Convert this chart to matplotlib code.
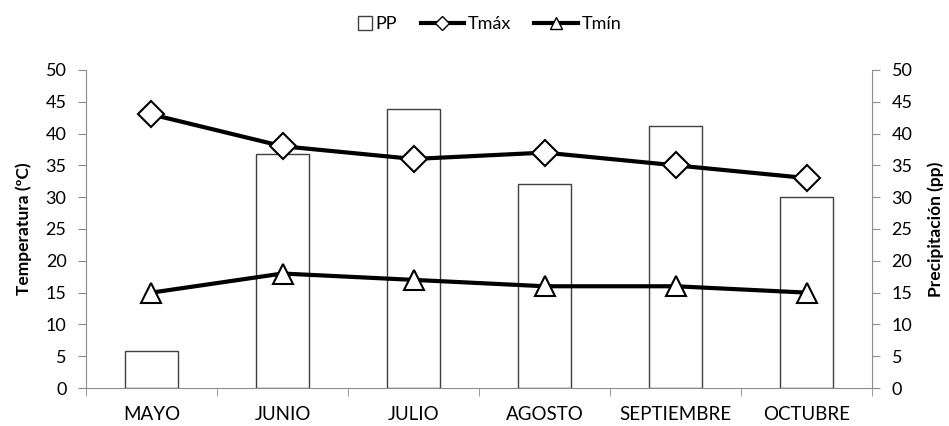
import matplotlib.pyplot as plt
from matplotlib.lines import Line2D
from matplotlib.patches import Rectangle
from matplotlib.legend_handler import HandlerBase
import numpy as np

plt.rcParams['font.family'] = ['Lato', 'DejaVu Sans']

meses = ['MAYO', 'JUNIO', 'JULIO', 'AGOSTO', 'SEPTIEMBRE', 'OCTUBRE']
pp = [5.8, 36.8, 43.8, 32.1, 41.2, 30.1]
tmax = [43, 38, 36, 37, 35, 33]
tmin = [15, 18, 17, 16, 16, 15]


class SquareAtRight(HandlerBase):
    # small square sitting next to the label, like the excel legend
    def create_artists(self, legend, orig_handle, xdescent, ydescent,
                       width, height, fontsize, trans):
        s = height * 1.1
        r = Rectangle((width - xdescent - s, -ydescent + (height - s) / 2), s, s,
                      facecolor='white', edgecolor='#404040', lw=1, transform=trans)
        return [r]


fig = plt.figure(figsize=(9.49, 4.26), dpi=100)
ax = fig.add_axes([0.0906, 0.089, 0.8284, 0.747])
ax2 = ax.twinx()
# bars behind the lines
ax.set_zorder(ax2.get_zorder() + 1)
ax.patch.set_visible(False)

x = np.arange(len(meses))
bars = ax2.bar(x, pp, 0.4, color='white', edgecolor='#404040', linewidth=1.0)

ax.plot(x, tmax, color='black', lw=3, marker='D', ms=13, mfc='white',
        mec='black', mew=1.5)
ax.plot(x, tmin, color='black', lw=3, marker='^', ms=15, mfc='white',
        mec='black', mew=1.5)

gray = '#8c8c8c'
for a in (ax, ax2):
    a.set_ylim(0, 50)
    a.set_yticks(range(0, 51, 5))
    a.set_xlim(-0.5, len(meses) - 0.5)
    for s in a.spines.values():
        s.set_visible(False)
    a.tick_params(axis='y', length=6, color=gray, labelsize=13, pad=8)

ax.spines['left'].set_visible(True)
ax.spines['left'].set_color(gray)
ax.spines['bottom'].set_visible(True)
ax.spines['bottom'].set_color(gray)
ax2.spines['right'].set_visible(True)
ax2.spines['right'].set_color(gray)

ax.set_xticks(x)
ax.set_xticklabels(meses)
ax.set_xticks(np.arange(-0.5, len(meses)), minor=True)
ax.tick_params(axis='x', which='major', length=0, labelsize=13.5, pad=13)
ax.tick_params(axis='x', which='minor', length=6, color=gray)

ax.set_ylabel('Temperatura (ºC)', fontsize=12.5, fontweight='bold', labelpad=10)
ax2.set_ylabel('Precipitación (pp)', fontsize=12.5, fontweight='bold', labelpad=11)

# legend proxies
pp_proxy = Rectangle((0, 0), 1, 1)
handles = [
    pp_proxy,
    Line2D([], [], color='black', lw=3, marker='D', ms=7, mfc='white', mec='black', mew=1),
    Line2D([], [], color='black', lw=3, marker='^', ms=8, mfc='white', mec='black', mew=1),
]
fig.legend(handles, ['PP', 'Tmáx', 'Tmín'], loc='upper center',
           bbox_to_anchor=(0.5005, 1.0), ncol=3, frameon=False, fontsize=13,
           handlelength=2.4, columnspacing=1.3, handletextpad=0.2,
           handler_map={pp_proxy: SquareAtRight()})

fig.savefig('out.png', dpi=100)
